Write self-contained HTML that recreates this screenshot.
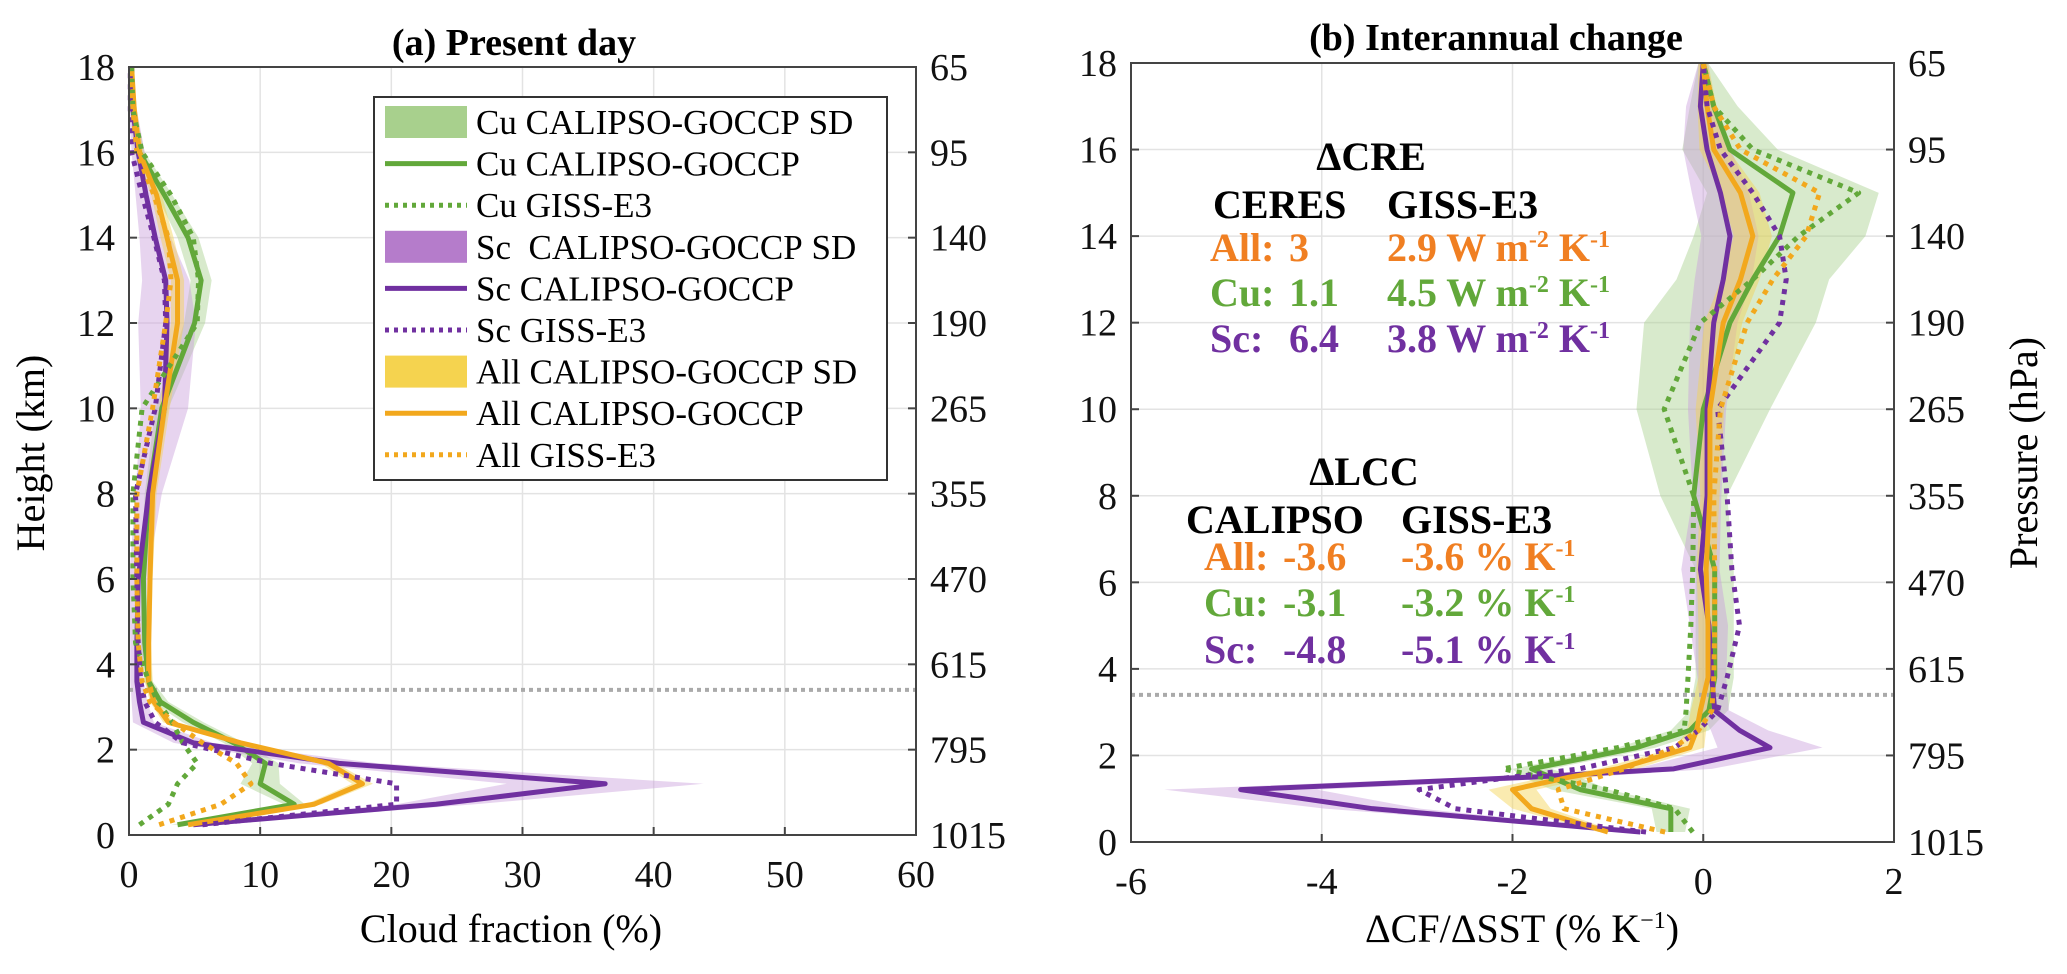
<!DOCTYPE html>
<html><head><meta charset="utf-8"><style>
body{margin:0;background:#fff;}
svg{display:block;font-family:"Liberation Serif",serif;}
</style></head><body>
<svg id="fig" width="2067" height="974" viewBox="0 0 2067 974" xmlns="http://www.w3.org/2000/svg">
</svg>
<script>
// ---- Panel (a) data ----
const heightsA = [0.24,0.72,1.2,1.68,2.16,2.64,3.12,3.6,4.5,6,8,10,12,13,14,15,16,17,18];
const scObsA  = [4.9,23.4,36.3,16,4.9,1.1,0.8,0.6,0.6,0.7,1.5,2.7,2.9,2.8,2.0,1.3,0.7,0.3,0.2];
const scSdA   = [1,3,7.5,3,1.5,0.8,0.6,0.5,0.5,0.7,1,1.8,2.2,1.8,1.2,0.8,0.5,0.3,0.1];
const scGissA = [5.6,20.4,20.4,10.8,4.1,2.0,1.2,0.9,0.7,0.6,0.5,2.0,2.8,2.7,1.9,1.0,0.2,0.1,0.1];
const cuObsA  = [3.7,12.6,10,10.4,8,4.9,2.4,1.5,1.2,1.1,1.5,2.5,5.0,5.5,4.5,2.7,0.8,0.3,0.2];
const cuSdA   = [0.5,0.8,1.5,1,0.8,0.8,0.6,0.3,0.3,0.2,0.3,0.5,0.8,0.8,0.8,0.6,0.4,0.2,0.1];
const cuGissA = [0.8,3,3.7,5.2,4.1,3.3,2.2,1.5,0.5,0.3,0.3,1.0,5.2,5.3,4.9,3.2,1.0,0.3,0.2];
const allObsA = [4.5,14.1,17.8,15.2,8.5,3.0,1.9,1.5,1.5,1.6,1.8,2.7,3.7,3.7,2.9,2.1,0.8,0.4,0.2];
const allSdA  = [0.4,0.6,0.8,0.6,0.5,0.4,0.3,0.3,0.2,0.2,0.3,0.4,0.5,0.5,0.5,0.4,0.3,0.2,0.1];
const allGissA= [2.3,7,9.3,8.2,5.6,3.4,1.6,1.0,0.7,0.6,0.6,1.8,2.8,3.2,3.0,1.9,0.6,0.3,0.2];
// ---- Panel (b) data ----
const heightsB = [0.23,0.77,1.21,1.5,1.69,2.18,2.58,3.04,3.8,5,6.3,8,10,12,13,14,15,16,17,18];
const scObsB  = [-0.66,-3.47,-4.85,-1.8,-0.31,0.70,0.38,0.12,0.09,0.06,-0.03,0.04,0.04,0.11,0.21,0.28,0.18,0.04,-0.03,0];
const scSdB   = [0.1,0.5,0.8,0.6,0.4,0.55,0.3,0.15,0.15,0.2,0.2,0.15,0.2,0.25,0.3,0.3,0.3,0.25,0.15,0.05];
const scGissB = [-0.6,-2.6,-2.98,-2.0,-1.3,-0.3,-0.05,0.15,0.25,0.38,0.3,0.25,0.15,0.8,0.87,0.8,0.52,0.18,0.04,0];
const cuObsB  = [-0.34,-0.34,-1.29,-1.6,-1.8,-0.7,-0.14,0.06,0.12,0.12,0.12,-0.1,0,0.28,0.52,0.8,0.94,0.28,0.11,0];
const cuSdB   = [0.15,0.2,0.3,0.3,0.2,0.2,0.2,0.2,0.2,0.2,0.2,0.35,0.7,0.9,0.8,0.9,0.9,0.5,0.25,0.05];
const cuGissB = [-0.11,-0.3,-1.0,-1.7,-2.1,-0.9,-0.2,-0.18,-0.16,-0.13,-0.11,-0.1,-0.41,-0.03,0.52,1.0,1.63,0.52,0.11,0];
const allObsB = [-1.0,-1.8,-2.0,-1.4,-0.9,-0.14,-0.07,-0.03,0.05,0.05,0.03,0.07,0.07,0.21,0.39,0.52,0.39,0.11,0.04,0];
const allSdB  = [0.1,0.2,0.25,0.25,0.2,0.15,0.1,0.1,0.1,0.1,0.1,0.1,0.15,0.2,0.2,0.2,0.2,0.15,0.1,0.05];
const allGissB= [-0.4,-1.46,-1.52,-1.1,-0.83,-0.31,-0.05,0.09,0.11,0.12,0.12,0.11,0.18,0.46,0.73,1.08,1.22,0.39,0.11,0];
// ---- ticks ----
const heightTicks = [0,2,4,6,8,10,12,14,16,18];
const pressureLabels = ["1015","795","615","470","355","265","190","140","95","65"];
const xTicksA = [0,10,20,30,40,50,60];
const xTicksB = [-6,-4,-2,0,2];

const NS="http://www.w3.org/2000/svg";
const svg=document.getElementById('fig');
function mk(tag,attrs,parent){const e=document.createElementNS(NS,tag);for(const k in attrs)e.setAttribute(k,attrs[k]);(parent||svg).appendChild(e);return e;}
function txt(s,attrs,parent){const e=mk('text',attrs,parent);e.textContent=s;return e;}

const C={cu:'#62a83a',sc:'#7030a0',all:'#f2a81d',cuF:'#a8d08d',scF:'#c9a0dc',allF:'#f5d34f'};
const TF=38;

function panel(cfg){
  const g=mk('g',{});
  
  
  const X=v=>cfg.x0+(v-cfg.xmin)/(cfg.xmax-cfg.xmin)*(cfg.x1-cfg.x0);
  const Y=h=>cfg.y0-(h/18)*(cfg.y0-cfg.y1);
  cfg.xticks.forEach(t=>{const l=mk('line',{x1:X(t),x2:X(t),y1:cfg.y0,y2:cfg.y1,stroke:'#e3e3e3','stroke-width':1.5},g);
    });
  heightTicks.forEach(t=>{const l=mk('line',{x1:cfg.x0,x2:cfg.x1,y1:Y(t),y2:Y(t),stroke:'#e3e3e3','stroke-width':1.5},g);
    });
  cfg.series.forEach(s=>{
    if(!s.sd)return;
    let pts=[];
    s.vals.forEach((v,i)=>pts.push(X(v+s.sd[i])+','+Y(cfg.h[i])));
    for(let i=s.vals.length-1;i>=0;i--)pts.push(X(s.vals[i]-s.sd[i])+','+Y(cfg.h[i]));
    const p=mk('polygon',{points:pts.join(' '),fill:s.fill,'fill-opacity':0.45,stroke:'none'},g);
    
  });
  const dl=mk('line',{x1:cfg.x0,x2:cfg.x1,y1:Y(3.4),y2:Y(3.4),stroke:'#aaaaaa','stroke-width':4,'stroke-dasharray':'4 4'},g);
  
  cfg.series.forEach(s=>{
    const pts=s.vals.map((v,i)=>X(v)+','+Y(cfg.h[i])).join(' ');
    const a={points:pts,fill:'none',stroke:s.color,'stroke-width':5,'stroke-linejoin':'round'};
    if(s.dash)a['stroke-dasharray']='5 6';
    const p=mk('polyline',a,g);
    
  });
  const box=mk('rect',{x:cfg.x0,y:cfg.y1,width:cfg.x1-cfg.x0,height:cfg.y0-cfg.y1,fill:'none',stroke:'#444','stroke-width':2},g);
  
  cfg.xticks.forEach(t=>{
    mk('line',{x1:X(t),x2:X(t),y1:cfg.y0,y2:cfg.y0-8,stroke:'#444','stroke-width':2},g);
    const tl=txt(String(t),{x:X(t),y:cfg.y0+52,'font-size':TF,'text-anchor':'middle',fill:'#111'},g);
    
  });
  heightTicks.forEach((t,i)=>{
    mk('line',{x1:cfg.x0,x2:cfg.x0+8,y1:Y(t),y2:Y(t),stroke:'#444','stroke-width':2},g);
    mk('line',{x1:cfg.x1,x2:cfg.x1-8,y1:Y(t),y2:Y(t),stroke:'#444','stroke-width':2},g);
    const l=txt(String(t),{x:cfg.x0-14,y:Y(t)+13,'font-size':TF,'text-anchor':'end',fill:'#111'},g);
    
    const r=txt(pressureLabels[i],{x:cfg.x1+14,y:Y(t)+13,'font-size':TF,'text-anchor':'start',fill:'#111'},g);
    
  });
  return g;
}

panel({name:'panel-a',x0:129,x1:916,y0:835,y1:67,xmin:0,xmax:60,xticks:xTicksA,h:heightsA,series:[
  {key:'cu-calipso',vals:cuObsA,sd:cuSdA,color:C.cu,fill:C.cuF},
  {key:'sc-calipso',vals:scObsA,sd:scSdA,color:C.sc,fill:C.scF},
  {key:'all-calipso',vals:allObsA,sd:allSdA,color:C.all,fill:C.allF},
  {key:'cu-giss',vals:cuGissA,color:C.cu,dash:1},
  {key:'sc-giss',vals:scGissA,color:C.sc,dash:1},
  {key:'all-giss',vals:allGissA,color:C.all,dash:1}]});
panel({name:'panel-b',x0:1131,x1:1894,y0:842,y1:63,xmin:-6,xmax:2,xticks:xTicksB,h:heightsB,series:[
  {key:'cu-calipso',vals:cuObsB,sd:cuSdB,color:C.cu,fill:C.cuF},
  {key:'sc-calipso',vals:scObsB,sd:scSdB,color:C.sc,fill:C.scF},
  {key:'all-calipso',vals:allObsB,sd:allSdB,color:C.all,fill:C.allF},
  {key:'cu-giss',vals:cuGissB,color:C.cu,dash:1},
  {key:'sc-giss',vals:scGissB,color:C.sc,dash:1},
  {key:'all-giss',vals:allGissB,color:C.all,dash:1}]});
</script>
<script>
(function(){
const NS="http://www.w3.org/2000/svg";const svg=document.getElementById('fig');
function t(s,a,name){const e=document.createElementNS(NS,'text');for(const k in a)e.setAttribute(k,a[k]);e.innerHTML=s;svg.appendChild(e);


return e;}
t('(a) Present day',{x:514,y:55,'font-size':38,'font-weight':'bold','text-anchor':'middle'},'panel-a-title');
t('(b) Interannual change',{x:1496,y:50,'font-size':38,'font-weight':'bold','text-anchor':'middle'},'panel-b-title');
t('Cloud fraction (%)',{x:511,y:942,'font-size':40,'text-anchor':'middle'},'x-axis-title-a');
t('ΔCF/ΔSST (% K<tspan dy="-14" font-size="24">−1</tspan><tspan dy="14">)</tspan>',{x:1522,y:942,'font-size':40,'text-anchor':'middle'},'x-axis-title-b');
t('Height (km)',{x:44,y:453,'font-size':40,'text-anchor':'middle',transform:'rotate(-90 44 453)'},'y-axis-title');
t('Pressure (hPa)',{x:2037,y:453,'font-size':40,'text-anchor':'middle',transform:'rotate(-90 2037 453)'},'y-axis-title-right');
const lg=document.createElementNS(NS,'rect');
lg.setAttribute('x',374);lg.setAttribute('y',97);lg.setAttribute('width',513);lg.setAttribute('height',383);lg.setAttribute('fill','#fff');lg.setAttribute('stroke','#333');lg.setAttribute('stroke-width',2);


svg.appendChild(lg);
const items=[['Cu CALIPSO-GOCCP SD','#a8d08d','fill'],['Cu CALIPSO-GOCCP','#62a83a','solid'],['Cu GISS-E3','#62a83a','dot'],
['Sc  CALIPSO-GOCCP SD','#b57ccb','fill'],['Sc CALIPSO-GOCCP','#7030a0','solid'],['Sc GISS-E3','#7030a0','dot'],
['All CALIPSO-GOCCP SD','#f5d34f','fill'],['All CALIPSO-GOCCP','#f2a81d','solid'],['All GISS-E3','#f2a81d','dot']];
items.forEach((it,i)=>{
  const y=122+i*41.6;
  let s;
  if(it[2]==='fill'){s=document.createElementNS(NS,'rect');s.setAttribute('x',385);s.setAttribute('y',y-16);s.setAttribute('width',82);s.setAttribute('height',32);s.setAttribute('fill',it[1]);}
  else{s=document.createElementNS(NS,'line');s.setAttribute('x1',385);s.setAttribute('x2',467);s.setAttribute('y1',y);s.setAttribute('y2',y);s.setAttribute('stroke',it[1]);s.setAttribute('stroke-width',5);if(it[2]==='dot')s.setAttribute('stroke-dasharray','4 5');}
  
  
  svg.appendChild(s);
  t(it[0].replace(/ /g,'\u00a0'),{x:476,y:y+12,'font-size':35},'legend-entry');
});
const sup=(a)=>'<tspan dy="-14" font-size="24">'+a+'</tspan><tspan dy="14"> </tspan>';
const AF=40;
t('ΔCRE',{x:1371,y:170,'font-size':AF,'font-weight':'bold','text-anchor':'middle'},'cre-heading');
t('CERES',{x:1213,y:218,'font-size':AF,'font-weight':'bold'},'ceres-column-label');
t('GISS-E3',{x:1387,y:218,'font-size':AF,'font-weight':'bold'},'giss-column-label');
const rows=[['All:','3','2.9','#f07f22',261],['Cu:','1.1','4.5','#62a83a',306],['Sc:','6.4','3.8','#7030a0',352]];
rows.forEach(r=>{
  t(r[0],{x:1210,y:r[4],'font-size':AF,'font-weight':'bold',fill:r[3]},'cre-row-label');
  t(r[1],{x:1289,y:r[4],'font-size':AF,'font-weight':'bold',fill:r[3]},'cre-ceres-value');
  t(r[2]+' W m'+sup('-2')+'K'+sup('-1'),{x:1387,y:r[4],'font-size':AF,'font-weight':'bold',fill:r[3]},'cre-giss-value');
});
t('ΔLCC',{x:1364,y:485,'font-size':AF,'font-weight':'bold','text-anchor':'middle'},'lcc-heading');
t('CALIPSO',{x:1186,y:533,'font-size':AF,'font-weight':'bold'},'calipso-column-label');
t('GISS-E3',{x:1401,y:533,'font-size':AF,'font-weight':'bold'},'giss-lcc-column-label');
const rows2=[['All:','-3.6','-3.6','#f07f22',570],['Cu:','-3.1','-3.2','#62a83a',616],['Sc:','-4.8','-5.1','#7030a0',663]];
rows2.forEach(r=>{
  t(r[0],{x:1204,y:r[4],'font-size':AF,'font-weight':'bold',fill:r[3]},'lcc-row-label');
  t(r[1],{x:1283,y:r[4],'font-size':AF,'font-weight':'bold',fill:r[3]},'lcc-calipso-value');
  t(r[2]+' % K'+sup('-1'),{x:1401,y:r[4],'font-size':AF,'font-weight':'bold',fill:r[3]},'lcc-giss-value');
});
})();
</script>
</body></html>
